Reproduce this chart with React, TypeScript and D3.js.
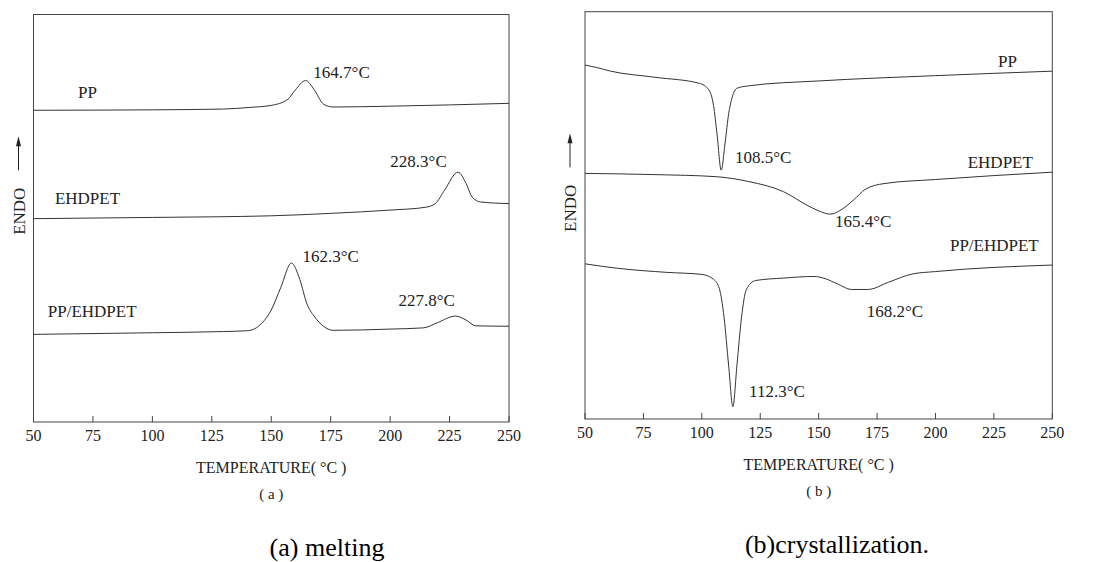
import React from 'react'
import * as d3 from 'd3'

// temperature ticks shared by both panels
const tempTicks = [50, 75, 100, 125, 150, 175, 200, 225, 250]

// (a) melting curves: [temperature, heat flow (arb.)]
const meltPP: [number, number][] = [
  [50, 76.5], [100, 76.6], [130, 76.8], [141, 77.2], [150, 77.7], [157, 79.2],
  [160, 81.4], [164.5, 83.8], [168, 81.6], [172, 78.0], [176, 77.3], [200, 77.5], [250, 78.2],
]
const meltEHDPET: [number, number][] = [
  [50, 49.9], [100, 50.2], [150, 50.6], [175, 51.2], [200, 52.0], [215, 52.7], [219, 53.6],
  [223, 57.0], [228.5, 61.3], [232, 58.5], [234.5, 55.2], [238, 54.0], [250, 53.6],
]
const meltBlend: [number, number][] = [
  [50, 21.5], [100, 21.9], [130, 22.2], [140, 22.4], [146, 24.2], [150, 27.5], [154, 33.0],
  [158.5, 39.0], [162, 35.0], [165, 29.0], [168, 26.0], [172, 23.5], [176, 22.5], [200, 22.8],
  [214, 23.1], [220, 24.4], [227.5, 26.0], [232, 25.0], [236, 23.6], [250, 23.5],
]

// (b) crystallization curves
const crystPP: [number, number][] = [
  [50, 86.9], [55, 86.3], [61, 85.4], [80, 83.9], [99, 82.4], [103, 80.8], [105, 77.0],
  [106.5, 70.0], [108.3, 61.1], [110, 68.0], [111.5, 75.0], [113, 79.0], [115, 81.2],
  [120, 81.8], [150, 83.0], [200, 84.3], [250, 85.4],
]
const crystEHDPET: [number, number][] = [
  [50, 60.3], [80, 60.0], [106, 59.5], [120, 58.3], [135, 55.8], [145, 52.5], [150, 51.1],
  [155, 50.3], [160, 51.5], [165, 53.8], [170, 56.4], [178, 57.8], [200, 58.8], [250, 60.6],
]
const crystBlend: [number, number][] = [
  [50, 38.1], [64, 37.0], [85, 36.0], [100, 35.5], [105, 34.3], [107.5, 32.0], [109.5, 25.0],
  [111.5, 13.0], [113.3, 3.0], [115, 13.0], [117, 25.0], [119, 31.7], [123, 34.0], [135, 34.6],
  [148, 35.0], [152, 34.6], [158, 33.2], [164, 31.8], [171, 31.8], [180, 33.6], [190, 35.6],
  [200, 36.2], [250, 37.8],
]

// labels: [text, temperature, heat flow] anchor of the text baseline start
const meltLabels: [string, number, number][] = [
  ['PP', 68.7, 79.5], ['164.7°C', 167.7, 84.4],
  ['EHDPET', 59, 53.4], ['228.3°C', 200.1, 62.5],
  ['162.3°C', 163.1, 39.2], ['PP/EHDPET', 56, 25.7], ['227.8°C', 203.5, 28.5],
]
const crystLabels: [string, number, number][] = [
  ['PP', 226.8, 86.4], ['108.5°C', 114.2, 62.9],
  ['EHDPET', 213.8, 61.7], ['165.4°C', 157, 47.1],
  ['PP/EHDPET', 206.2, 41.3], ['168.2°C', 170.6, 25.1], ['112.3°C', 120.2, 5.4],
]

const serif = '"Liberation Serif", "Times New Roman", serif'
const ink = '#222'

function Panel({ left, right, top, bottom, series, labels, sub, caption, captionX }) {
  const x = d3.scaleLinear().domain([50, 250]).range([left, right])
  const y = d3.scaleLinear().domain([0, 100]).range([bottom, top])
  const line = d3.line<[number, number]>()
    .x(d => x(d[0]))
    .y(d => y(d[1]))
    .curve(d3.curveMonotoneX)
  const cx = (left + right) / 2
  const arrowX = left - 15
  const midY = (top + bottom) / 2
  return (
    <g>
      <rect x={left} y={top} width={right - left} height={bottom - top}
        fill="none" stroke="#444" strokeWidth={1} />
      {tempTicks.map(t => (
        <g key={t}>
          <line x1={x(t)} x2={x(t)} y1={bottom} y2={bottom - 6} stroke="#444" />
          <text x={x(t)} y={bottom + 19} textAnchor="middle" fontSize={16}
            fontFamily={serif} fill={ink}>{t}</text>
        </g>
      ))}
      {series.map((s, i) => (
        <path key={i} d={line(s)} fill="none" stroke="#333" strokeWidth={1} />
      ))}
      {labels.map(([txt, t, v]) => (
        <text key={txt} x={x(t)} y={y(v)} fontSize={17} fontFamily={serif} fill={ink}>{txt}</text>
      ))}
      <text transform={`translate(${arrowX + 6}, ${midY - 7}) rotate(-90)`} textAnchor="middle"
        fontSize={17} fontFamily={serif} fill={ink}>ENDO</text>
      <line x1={arrowX} x2={arrowX} y1={midY - 48} y2={midY - 76} stroke={ink} strokeWidth={1} />
      <path d={`M${arrowX},${midY - 82} L${arrowX - 2.5},${midY - 72} L${arrowX + 2.5},${midY - 72} Z`} fill={ink} />
      <text x={cx} y={bottom + 51} textAnchor="middle" fontSize={16} fontFamily={serif} fill={ink}>
        TEMPERATURE( °C )
      </text>
      <text x={cx} y={bottom + 77} textAnchor="middle" fontSize={15} fontFamily={serif} fill={ink}>
        {sub}
      </text>
      <text x={captionX} y={bottom + 134} textAnchor="middle" fontSize={26} fontFamily={serif} fill="#000">
        {caption}
      </text>
    </g>
  )
}

export default function App() {
  return (
    <svg width={1110} height={562} viewBox="0 0 1110 562"
      style={{ position: 'absolute', left: 0, top: 0, background: '#fff' }}>
      <Panel left={33.5} right={509} top={14.5} bottom={422}
        series={[meltPP, meltEHDPET, meltBlend]} labels={meltLabels}
        sub="( a )" caption="(a) melting" captionX={327} />
      <Panel left={585} right={1052.3} top={11.7} bottom={419}
        series={[crystPP, crystEHDPET, crystBlend]} labels={crystLabels}
        sub="( b )" caption="(b)crystallization." captionX={837} />
    </svg>
  )
}
